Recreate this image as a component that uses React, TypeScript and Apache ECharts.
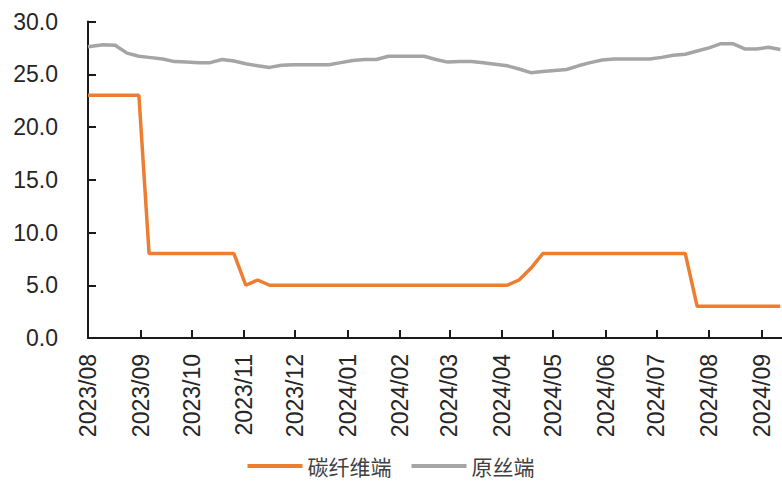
import React, { useEffect, useRef } from "react";
import * as echarts from "echarts";

const dates: string[] = [
  "2023-08-01", "2023-08-10", "2023-08-17", "2023-08-24", "2023-08-31",
  "2023-09-06", "2023-09-14", "2023-09-21", "2023-09-28", "2023-10-05",
  "2023-10-12", "2023-10-19", "2023-10-26", "2023-11-02", "2023-11-09",
  "2023-11-16", "2023-11-23", "2023-11-30", "2023-12-07", "2023-12-14",
  "2023-12-21", "2023-12-28", "2024-01-04", "2024-01-11", "2024-01-18",
  "2024-01-25", "2024-02-01", "2024-02-08", "2024-02-15", "2024-02-22",
  "2024-02-29", "2024-03-07", "2024-03-14", "2024-03-21", "2024-03-28",
  "2024-04-04", "2024-04-11", "2024-04-18", "2024-04-25", "2024-05-02",
  "2024-05-09", "2024-05-16", "2024-05-23", "2024-05-30", "2024-06-06",
  "2024-06-13", "2024-06-20", "2024-06-27", "2024-07-04", "2024-07-11",
  "2024-07-18", "2024-07-25", "2024-08-01", "2024-08-08", "2024-08-15",
  "2024-08-22", "2024-08-29", "2024-09-05", "2024-09-12",
];

const carbonFiber: number[] = [
  23.0, 23.0, 23.0, 23.0, 23.0,
  8.0, 8.0, 8.0, 8.0, 8.0,
  8.0, 8.0, 8.0, 5.0, 5.5,
  5.0, 5.0, 5.0, 5.0, 5.0,
  5.0, 5.0, 5.0, 5.0, 5.0,
  5.0, 5.0, 5.0, 5.0, 5.0,
  5.0, 5.0, 5.0, 5.0, 5.0,
  5.0, 5.5, 6.6, 8.0, 8.0,
  8.0, 8.0, 8.0, 8.0, 8.0,
  8.0, 8.0, 8.0, 8.0, 8.0,
  8.0, 3.0, 3.0, 3.0, 3.0,
  3.0, 3.0, 3.0, 3.0,
];

const precursor: number[] = [
  27.6, 27.8, 27.75, 27.0, 26.7,
  26.6, 26.45, 26.2, 26.15, 26.1,
  26.1, 26.4, 26.25, 26.0, 25.8,
  25.65, 25.85, 25.9, 25.9, 25.9,
  25.9, 26.1, 26.3, 26.4, 26.4,
  26.7, 26.7, 26.7, 26.7, 26.4,
  26.15, 26.2, 26.2, 26.1, 25.95,
  25.8, 25.5, 25.15, 25.25, 25.35,
  25.45, 25.8, 26.1, 26.35, 26.45,
  26.45, 26.45, 26.45, 26.6, 26.8,
  26.9, 27.2, 27.5, 27.9, 27.9,
  27.4, 27.4, 27.55, 27.35,
];

const monthTicks: string[] = [
  "2023/08", "2023/09", "2023/10", "2023/11", "2023/12", "2024/01", "2024/02",
  "2024/03", "2024/04", "2024/05", "2024/06", "2024/07", "2024/08", "2024/09",
];

const seriesNames = ["碳纤维端", "原丝端"];
const axisMin = "2023-08-01";
const axisMax = "2024-09-13";

function toTs(s: string): number {
  const p = s.split(/[-/]/).map(Number);
  return new Date(p[0], p[1] - 1, p[2] || 1).getTime();
}

function fmtMonth(v: number): string {
  const d = new Date(v);
  const m = d.getMonth() + 1;
  return d.getFullYear() + "/" + (m < 10 ? "0" + m : "" + m);
}

export default function App() {
  const ref = useRef<HTMLDivElement>(null);
  useEffect(() => {
    if (!ref.current) return;
    const chart = echarts.init(ref.current, undefined, { renderer: "svg" });
    const tickValues = monthTicks.map(toTs);
    const axisFont = "'Liberation Sans', Arial, sans-serif";
    chart.setOption({
      animation: false,
      backgroundColor: "#ffffff",
      grid: { left: 88, right: 0, top: 21.5, bottom: 143, containLabel: false },
      legend: {
        data: seriesNames,
        left: "center",
        top: 450,
        icon: "rect",
        itemWidth: 55,
        itemHeight: 4,
        itemGap: 20,
        textStyle: {
          fontFamily: "'Noto Sans CJK SC', sans-serif",
          fontSize: 21,
          lineHeight: 22,
          color: "#404040",
        },
      },
      xAxis: {
        type: "value",
        min: toTs(axisMin),
        max: toTs(axisMax),
        splitLine: { show: false },
        axisLine: { show: true, onZero: false, lineStyle: { color: "#1a1a1a", width: 2 } },
        axisTick: {
          show: true,
          inside: true,
          length: 8,
          lineStyle: { color: "#1a1a1a", width: 2 },
          customValues: tickValues,
        },
        axisLabel: {
          show: true,
          rotate: 90,
          margin: 16,
          fontSize: 23,
          fontFamily: axisFont,
          color: "#262626",
          customValues: tickValues,
          formatter: (v: number) => fmtMonth(v),
        },
      },
      yAxis: {
        type: "value",
        min: 0,
        max: 30,
        interval: 5,
        splitLine: { show: false },
        axisLine: { show: true, lineStyle: { color: "#1a1a1a", width: 2 } },
        axisTick: { show: true, inside: true, length: 8, lineStyle: { color: "#1a1a1a", width: 2 } },
        axisLabel: {
          margin: 30,
          fontSize: 23,
          fontFamily: axisFont,
          color: "#262626",
          formatter: (v: number) => v.toFixed(1),
        },
      },
      series: [
        {
          name: seriesNames[0],
          type: "line",
          data: dates.map((d, i) => [toTs(d), carbonFiber[i]]),
          symbol: "none",
          lineStyle: { color: "#ED7D31", width: 3.5 },
          itemStyle: { color: "#ED7D31" },
        },
        {
          name: seriesNames[1],
          type: "line",
          data: dates.map((d, i) => [toTs(d), precursor[i]]),
          symbol: "none",
          lineStyle: { color: "#A5A5A5", width: 3.5 },
          itemStyle: { color: "#A5A5A5" },
        },
      ],
    });
    return () => chart.dispose();
  }, []);
  return (
    <div
      ref={ref}
      style={{ position: "fixed", left: 0, top: 0, width: 782, height: 481, background: "#fff" }}
    />
  );
}
